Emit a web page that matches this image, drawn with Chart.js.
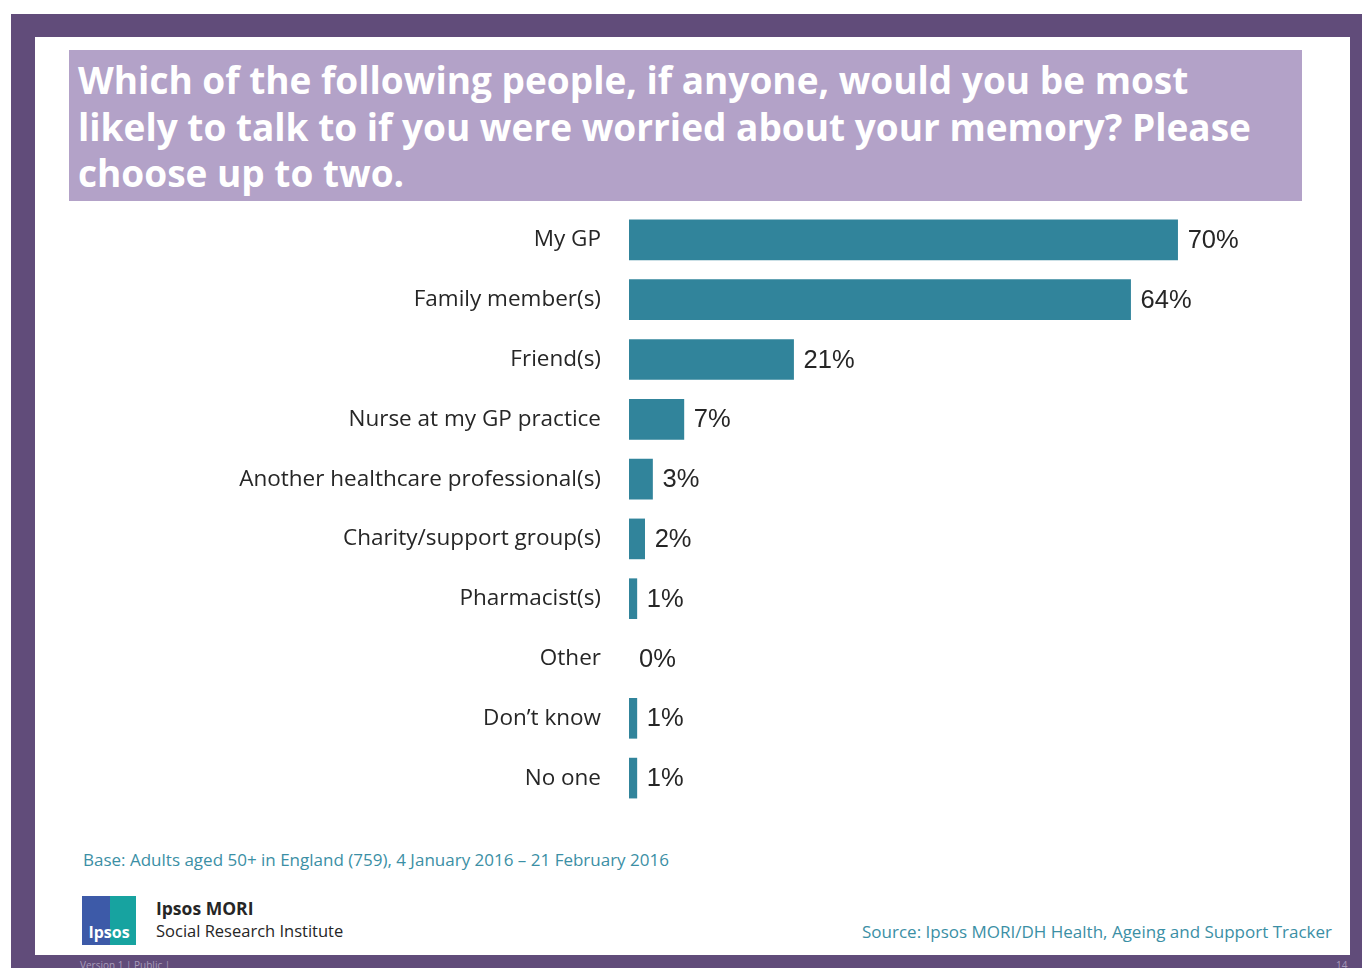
<!DOCTYPE html>
<html>
<head>
<meta charset="utf-8">
<script src="https://cdn.jsdelivr.net/npm/chart.js@4.4.1/dist/chart.umd.min.js"></script>
<style>
  html, body { margin: 0; padding: 0; background: #ffffff; }
  body { width: 1362px; height: 968px; position: relative; overflow: hidden; font-family: "Open Sans", "Noto Sans", sans-serif; }
  .frame { position: absolute; left: 11px; top: 14px; width: 1351px; height: 954px; background: #614c7a; }
  .inner { position: absolute; left: 35px; top: 37px; width: 1315px; height: 918px; background: #ffffff; }
  .title { position: absolute; left: 69px; top: 50px; width: 1233px; height: 151px; background: #b3a2c8; }
  .title p { margin: 0; position: absolute; left: 9px; top: 7px; color: #ffffff; font-weight: 700; font-size: 37px; line-height: 46.5px; letter-spacing: 0px; white-space: nowrap; }
  #wrap { position: absolute; left: 69px; top: 210px; width: 1233px; height: 598px; }
  .base { position: absolute; left: 83px; top: 848px; color: #3b8fa5; font-size: 17px; }
  .source { position: absolute; right: 30px; top: 920px; color: #3b8fa5; font-size: 17px; }
  .logo { position: absolute; left: 82px; top: 896px; width: 54px; height: 49px; overflow: hidden; }
  .logo .l { position: absolute; left: 0; top: 0; width: 28px; height: 49px; background: #3d5aa8; }
  .logo .r { position: absolute; left: 28px; top: 0; width: 26px; height: 49px; background: #17a3a0; }
  .logo .t { position: absolute; left: 0; width: 54px; top: 25px; text-align: center; color: #fff; font-weight: 700; font-size: 16px; }
  .org1 { position: absolute; left: 156px; top: 896px; font-weight: 700; font-size: 17.5px; color: #262626; }
  .org2 { position: absolute; left: 156px; top: 919px; font-size: 16.5px; color: #262626; }
  .ver { position: absolute; left: 80px; top: 958px; font-size: 10px; color: #a99cbb; }
  .pg { position: absolute; left: 1336px; top: 958px; font-size: 10px; color: #a99cbb; }
</style>
</head>
<body>
<div class="frame"></div>
<div class="inner"></div>
<div class="title"><p>Which of the following people, if anyone, would you be most<br>likely to talk to if you were worried about your memory? Please<br>choose up to two.</p></div>
<div id="wrap"><canvas id="chart"></canvas></div>
<div class="base">Base: Adults aged 50+ in England (759), 4 January 2016 – 21 February 2016</div>
<div class="logo"><div class="l"></div><div class="r"></div><div class="t">Ipsos</div></div>
<div class="org1">Ipsos MORI</div>
<div class="org2">Social Research Institute</div>
<div class="source">Source: Ipsos MORI/DH Health, Ageing and Support Tracker</div>
<div class="ver">Version 1  | Public |</div>
<div class="pg">14</div>
<script>
const categories = [
  "My GP",
  "Family member(s)",
  "Friend(s)",
  "Nurse at my GP practice",
  "Another healthcare professional(s)",
  "Charity/support group(s)",
  "Pharmacist(s)",
  "Other",
  "Don\u2019t know",
  "No one"
];
const shares = [70, 64, 21, 7, 3, 2, 1, 0, 1, 1];
const valueLabels = ["70%", "64%", "21%", "7%", "3%", "2%", "1%", "0%", "1%", "1%"];

// Percentage labels placed just past the end of each bar
const barValueLabels = {
  id: "barValueLabels",
  afterDatasetsDraw(chart) {
    const ctx = chart.ctx;
    const meta = chart.getDatasetMeta(0);
    ctx.save();
    ctx.font = '25.5px "Liberation Sans", Arial, sans-serif';
    ctx.fillStyle = "#262626";
    ctx.textAlign = "left";
    ctx.textBaseline = "middle";
    meta.data.forEach((bar, i) => {
      ctx.fillText(valueLabels[i], bar.x + 10, bar.y + 1);
    });
    ctx.restore();
  }
};

new Chart(document.getElementById("chart"), {
  type: "bar",
  data: {
    labels: categories,
    datasets: [{
      data: shares,
      // zero-length bars get no fill so no sliver shows at the axis
      backgroundColor: (c) => (c.raw === 0 ? "rgba(0,0,0,0)" : "#31849b"),
      borderWidth: 0,
      barThickness: 40
    }]
  },
  options: {
    indexAxis: "y",
    responsive: true,
    maintainAspectRatio: false,
    animation: false,
    layout: { padding: { left: 0, right: 46, top: 0, bottom: 0 } },
    plugins: { legend: { display: false }, tooltip: { enabled: false } },
    scales: {
      x: { display: false, min: 0, max: 80 },
      y: {
        grid: { display: false, drawTicks: false },
        border: { display: false },
        ticks: {
          padding: 28,
          color: "#262626",
          font: { family: '"Open Sans", "Noto Sans", sans-serif', size: 22.5 }
        },
        afterFit(scale) {
          scale.width = 560;
          scale.paddingTop = 0;
          scale.paddingBottom = 0;
        }
      }
    }
  },
  plugins: [barValueLabels]
});
</script>
</body>
</html>
